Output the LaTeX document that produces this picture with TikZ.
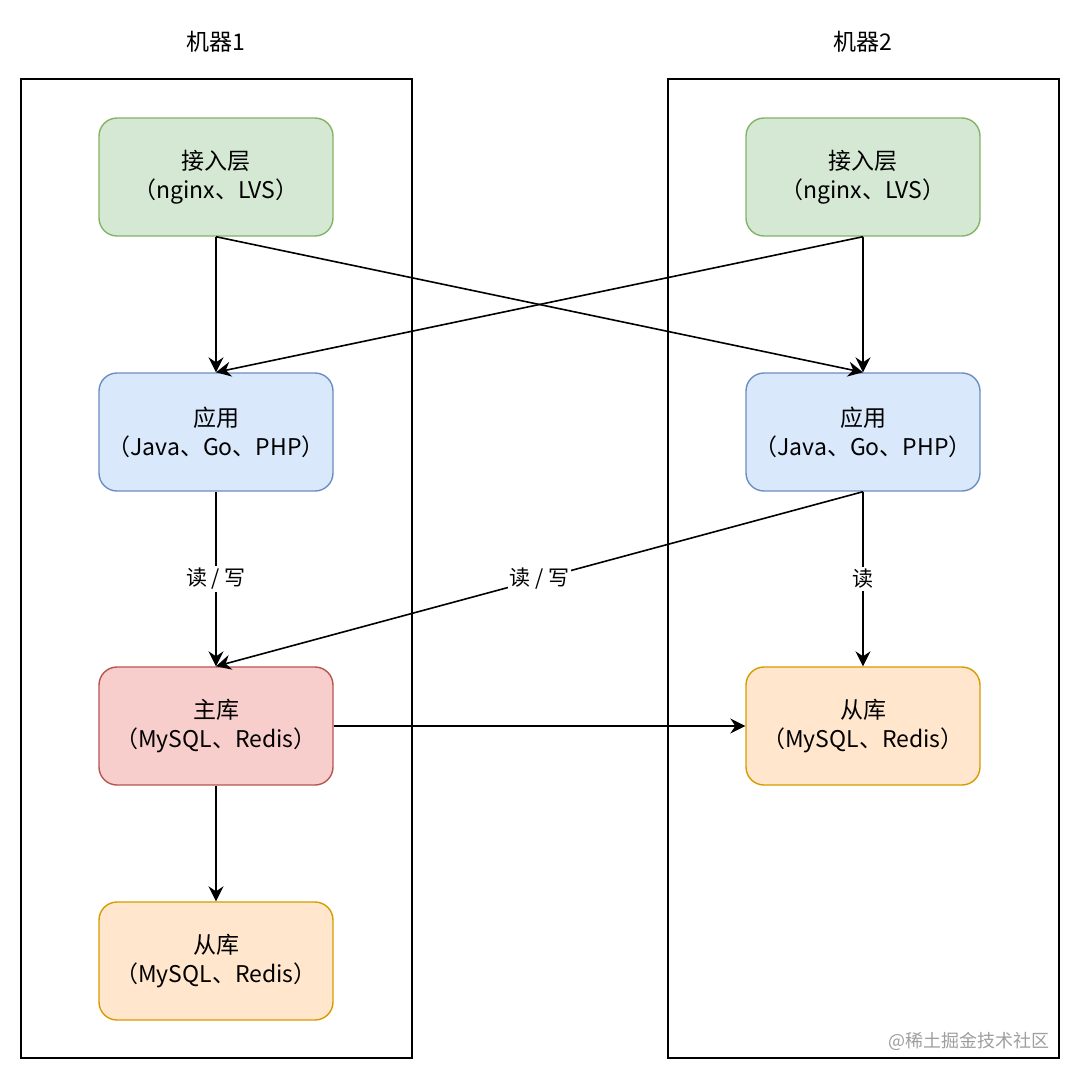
\documentclass[tikz,border=0pt]{standalone}
\usepackage{fontspec}
\setmainfont{Noto Sans CJK SC}
\usetikzlibrary{arrows.meta}
\usepackage{xcolor}
\definecolor{ingreen}{HTML}{D5E8D4}
\definecolor{ingreenline}{HTML}{82B366}
\definecolor{appblue}{HTML}{DAE8FC}
\definecolor{appblueline}{HTML}{6C8EBF}
\definecolor{mainred}{HTML}{F8CECC}
\definecolor{mainredline}{HTML}{B85450}
\definecolor{copyorange}{HTML}{FFE6CC}
\definecolor{copyorangeline}{HTML}{D79B00}
\tikzset{
    box/.style={
        rounded corners=18pt,
        minimum width=234pt,
        minimum height=118pt,
        inner sep=0pt,
        line width=1.4pt,
        align=center,
        font=\fontsize{23}{29}\selectfont
    },
    machine/.style={draw,line width=1.6pt,minimum width=391pt,minimum height=979pt,inner sep=0pt},
    link/.style={-{Stealth[length=15pt,width=15pt,inset=5pt]},line width=1.6pt},
    tag/.style={fill=white,inner sep=2pt,font=\fontsize{21}{24}\selectfont}
}
\newcommand{\tier}[5] {
    \node[box,draw={#3},fill={#4}] (#1) at (#2) {#5};
}

\begin{document}
\begin{tikzpicture}[x=1pt,y=-1pt]
        \useasboundingbox (0,0) rectangle (1080,1080);
        % machines
        \node[machine] (m1) at (216.5,568.5) {};
        \node[machine] (m2) at (863.5,568.5) {};
        \node[font=\fontsize{23}{24}\selectfont] (m1title) at (216,42) {机器1};
        \node[font=\fontsize{23}{24}\selectfont] (m2title) at (863,42) {机器2};
        % machine 1
        \tier{m1in}{216,177}{ingreenline}{ingreen}{接入层\\（nginx、LVS）}
        \tier{m1app}{216,432}{appblueline}{appblue}{应用\\（Java、Go、PHP）}
        \tier{m1main}{216,726}{mainredline}{mainred}{主库\\（MySQL、Redis）}
        \tier{m1copy}{216,961}{copyorangeline}{copyorange}{从库\\（MySQL、Redis）}
        % machine 2
        \tier{m2in}{863,177}{ingreenline}{ingreen}{接入层\\（nginx、LVS）}
        \tier{m2app}{863,432}{appblueline}{appblue}{应用\\（Java、Go、PHP）}
        \tier{m2copy}{863,726}{copyorangeline}{copyorange}{从库\\（MySQL、Redis）}
        % links
        \draw[link] (m1in.south) -- (m1app.north);
        \draw[link] (m1in.south) -- (m2app.north);
        \draw[link] (m2in.south) -- (m2app.north);
        \draw[link] (m2in.south) -- (m1app.north);
        \draw[link] (m1app.south) -- node[tag] (rw1) {读 / 写} (m1main.north);
        \draw[link] (m2app.south) -- node[tag] (rw2) {读 / 写} (m1main.north);
        \draw[link] (m2app.south) -- node[tag] (rd) {读} (m2copy.north);
        \draw[link] (m1main.east) -- (m2copy.west);
        \draw[link] (m1main.south) -- (m1copy.north);
        \node[text=black!38,font=\fontsize{18}{20}\selectfont,anchor=east] (mark) at (1053,1041) {@稀土掘金技术社区};
    \end{tikzpicture}
\end{document}
